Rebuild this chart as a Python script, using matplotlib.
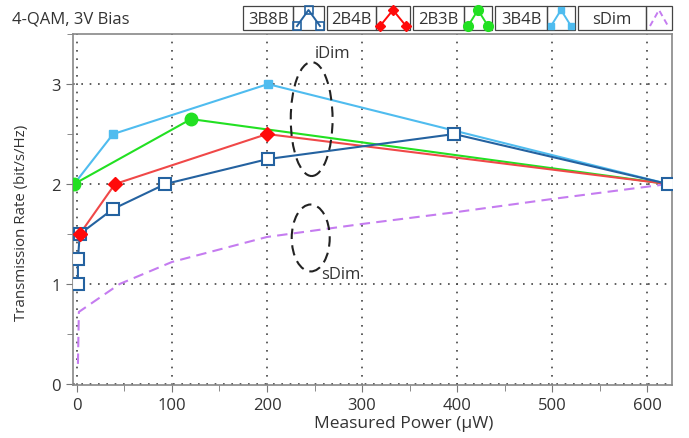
import matplotlib
matplotlib.use("Agg")
import matplotlib.pyplot as plt
from matplotlib.patches import Ellipse, Rectangle
from matplotlib.lines import Line2D
from matplotlib.ticker import MultipleLocator

plt.rcParams['font.family'] = ['Open Sans', 'DejaVu Sans']
plt.rcParams['font.size'] = 12

# measured power (uW) vs. transmission rate (bit/s/Hz)
p_3b8b = [1, 1, 3, 38, 93, 201, 397, 622]
r_3b8b = [1.0, 1.25, 1.5, 1.75, 2.0, 2.25, 2.5, 2.0]

p_2b4b = [3, 40, 200, 622]
r_2b4b = [1.5, 2.0, 2.5, 2.0]

p_2b3b = [-3, 120, 622]
r_2b3b = [2.0, 2.65, 2.0]

p_3b4b = [-3, 38, 201, 622]
r_3b4b = [2.0, 2.5, 3.0, 2.0]

p_sdim = [1, 2, 45, 100, 200, 300, 400, 500, 622]
r_sdim = [0.2, 0.72, 1.0, 1.22, 1.47, 1.6, 1.72, 1.85, 2.0]

labels = ['3B8B', '2B4B', '2B3B', '3B4B', 'sDim']

C_3B8B = '#2462a0'
C_2B4B = '#ff0a0a'
C_2B4B_LINE = '#f04848'
C_2B3B = '#22e022'
C_3B4B = '#4fbcef'
C_SDIM = '#c57cf0'

fig = plt.figure(figsize=(6.89, 4.39), dpi=100)
ax = fig.add_axes([0.1055, 0.121, 0.8695, 0.799])

ax.plot(p_sdim, r_sdim, '--', color=C_SDIM, lw=1.5, dashes=(5, 3), zorder=2)
ax.plot(p_3b4b, r_3b4b, '-s', color=C_3B4B, lw=1.5, ms=5.5, markevery=[0, 1, 2], zorder=3)
ax.plot(p_2b3b, r_2b3b, '-o', color=C_2B3B, lw=1.5, ms=9, markevery=[0, 1], zorder=4)
ax.plot(p_2b4b, r_2b4b, '-', color=C_2B4B_LINE, lw=1.5, zorder=5)
ax.plot(p_3b8b, r_3b8b, '-s', color=C_3B8B, lw=1.5, ms=8, mfc='white', mew=1.5, zorder=6)
ax.plot(p_2b4b[:-1], r_2b4b[:-1], 'D', color=C_2B4B, ms=7.5, zorder=7)

# iDim / sDim groupings
ax.add_patch(Ellipse((247, 2.65), 44, 1.14, fill=False, ls=(0, (5, 3)), lw=1.5, color='#222222', zorder=8))
ax.add_patch(Ellipse((246, 1.46), 40, 0.67, fill=False, ls=(0, (5, 3)), lw=1.5, color='#222222', zorder=8))
ax.text(250, 3.31, 'iDim', ha='left', va='center', color='#333333')
ax.text(257, 1.10, 'sDim', ha='left', va='center', color='#333333')

ax.set_xlim(-4.5, 626)
ax.set_ylim(-0.01, 3.5)
ax.xaxis.set_major_locator(MultipleLocator(100))
ax.xaxis.set_minor_locator(MultipleLocator(50))
ax.yaxis.set_major_locator(MultipleLocator(1))
ax.yaxis.set_minor_locator(MultipleLocator(0.5))
ax.tick_params(which='both', direction='out', color='#777777', labelcolor='#333333')
ax.tick_params(which='major', length=5)
ax.tick_params(which='minor', length=4)
ax.grid(True, which='major', ls=(0, (1, 4)), color='#444444', lw=1.2)
ax.xaxis.get_gridlines()[0].set_visible(False)
for s in ax.spines.values():
    s.set_color('#888888')
    s.set_linewidth(1.2)

ax.set_xlabel('Measured Power (µW)', color='#333333', fontsize=12.5)
ax.xaxis.set_label_coords(0.553, -0.085)
ax.set_ylabel('Transmission Rate (bit/s/Hz)', color='#333333', fontsize=10.8)
ax.yaxis.set_label_coords(-0.073, 0.464)

fig.text(12 / 689, 1 - 20 / 439, '4-QAM, 3V Bias', ha='left', va='center', color='#333333')

# boxed legend strip with small peak-shaped glyphs
lg = fig.add_axes([0, 0, 1, 1], zorder=10)
lg.set_xlim(0, 689)
lg.set_ylim(439, 0)
lg.axis('off')
box_left = [243, 327, 413, 495, 578]
box_right = [324, 410, 492, 575, 672]
icon_w = [31, 34, 28, 28, 26]
styles = [
    dict(color=C_3B8B, marker='s', ms=5.5, mfc='none', mew=1.2),
    dict(color=C_2B4B, marker='D', ms=5.5),
    dict(color=C_2B3B, marker='o', ms=7),
    dict(color=C_3B4B, marker='s', ms=4.5),
    dict(color=C_SDIM, marker='', ls='--', dashes=(3, 2)),
]
top, bot = 7, 31
for lab, x0, x1, w, st in zip(labels, box_left, box_right, icon_w, styles):
    xd = x1 - w
    lg.add_patch(Rectangle((x0, top), xd - x0, bot - top, fill=False, ec='#444444', lw=0.9))
    lg.add_patch(Rectangle((xd, top), w, bot - top, fill=False, ec='#444444', lw=0.9))
    lg.text((x0 + xd) / 2, (top + bot) / 2 + 0.5, lab, ha='center', va='center', color='#333333')
    lg.add_line(Line2D([xd + 4, xd + w / 2, x1 - 4], [bot - 4, top + 4, bot - 4], lw=1.4, **st))

fig.savefig('out.png', dpi=100)
